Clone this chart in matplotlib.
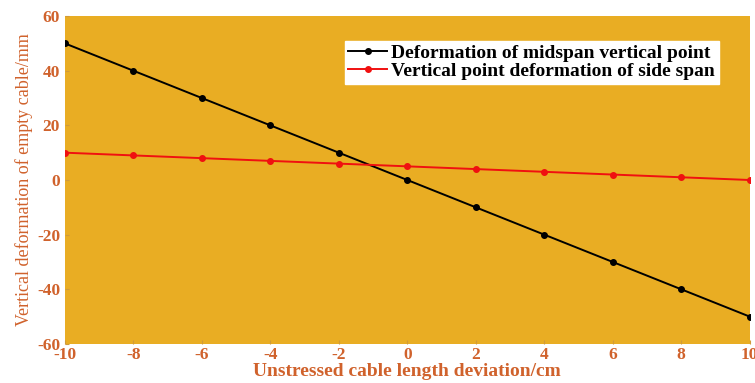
import matplotlib.pyplot as plt

# cable length deviation (cm) and resulting deformation (mm)
deviation = [-10, -8, -6, -4, -2, 0, 2, 4, 6, 8, 10]
midspan = [50, 40, 30, 20, 10, 0, -10, -20, -30, -40, -50]
side_span = [10, 9, 8, 7, 6, 5, 4, 3, 2, 1, 0]

text_color = "#D0622C"
plt.rcParams["font.family"] = ["Liberation Serif", "DejaVu Serif"]
plt.rcParams["font.weight"] = "bold"
plt.rcParams["axes.unicode_minus"] = False

fig = plt.figure(figsize=(7.55, 3.83), dpi=100)
ax = fig.add_axes([0.086, 0.102, 0.907, 0.856])
ax.set_facecolor("#E9AD23")

ax.plot(deviation, midspan, color="black", marker="o", markersize=4,
        linewidth=1.4, label="Deformation of midspan vertical point")
ax.plot(deviation, side_span, color="#F01010", marker="o", markersize=4,
        linewidth=1.4, label="Vertical point deformation of side span")

ax.set_xlim(-10, 10)
ax.set_ylim(-60, 60)
ax.set_xticks(range(-10, 11, 2))
ax.set_yticks(range(-60, 61, 20))
for spine in ax.spines.values():
    spine.set_visible(False)
ax.tick_params(direction="in", length=3, colors="#D09A3A", labelcolor=text_color,
               labelsize=12.5)
ax.tick_params(axis="x", pad=2)
for lbl in ax.get_xticklabels() + ax.get_yticklabels():
    lbl.set_fontweight("bold")

ax.set_xlabel("Unstressed cable length deviation/cm", color=text_color,
              fontsize=14, fontweight="bold", labelpad=0)
ax.set_ylabel("Vertical deformation of empty cable/mm", color=text_color,
              fontsize=13, fontweight="normal", labelpad=3)

leg = ax.legend(loc="upper right", bbox_to_anchor=(0.955, 0.925), fontsize=14,
                frameon=True, fancybox=False, framealpha=1, edgecolor="white",
                handlelength=2.0, handletextpad=0.2, borderpad=0.2,
                labelspacing=0.0, borderaxespad=0)
for t in leg.get_texts():
    t.set_fontweight("bold")

fig.savefig("out.png", dpi=100)
